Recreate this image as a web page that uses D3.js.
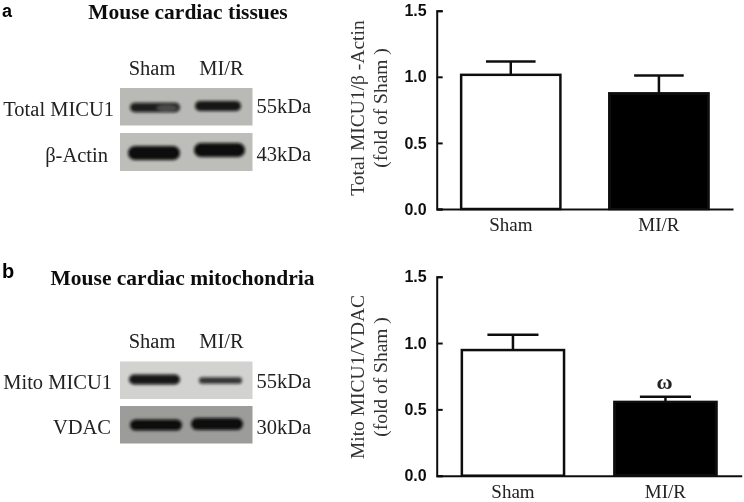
<!DOCTYPE html>
<html>
<head>
<meta charset="utf-8">
<script src="https://cdn.jsdelivr.net/npm/d3@7"></script>
<style>
  html, body { margin: 0; padding: 0; background: #fff; }
  svg { display: block; }
  text { fill: #222; }
  .serif { font-family: "Liberation Serif", serif; font-size: 20.5px; }
  .ytitle { font-family: "Liberation Serif", serif; font-size: 19.5px; fill: #333; }
  .title { font-family: "Liberation Serif", serif; font-size: 21.5px; font-weight: bold; fill: #111; }
  .letter { font-family: "Liberation Sans", sans-serif; font-size: 20px; font-weight: bold; fill: #000; }
  .tick text { font-family: "Liberation Sans", sans-serif; font-size: 16px; font-weight: bold; fill: #111; }
  .xaxis .tick text { font-family: "Liberation Serif", serif; font-size: 19px; font-weight: normal; fill: #222; }
</style>
</head>
<body>
<div id="chart"></div>
<script>
// --- data -------------------------------------------------------------------
const groups = ['Sham', 'MI/R'];
const yTicks = [0, 0.5, 1.0, 1.5];

const totalMeans = [1.015, 0.875];
const totalErrors = [0.1, 0.135];
const mitoMeans = [0.947, 0.556];
const mitoErrors = [0.115, 0.04];

const barFills = ['#fff', '#000'];

// band darkness per lane, 0..1
const totalMicuDensity = [0.9, 0.95];
const actinDensity = [1, 1];
const mitoMicuDensity = [0.95, 0.8];
const vdacDensity = [1, 1];

const W = 744, H = 502;
const root = d3.select('#chart').append('svg')
  .attr('width', W).attr('height', H)
  .attr('viewBox', `0 0 ${W} ${H}`);

const defs = root.append('defs');
function addBlur(id, s) {
  defs.append('filter').attr('id', id)
    .attr('x', '-20%').attr('y', '-80%').attr('width', '140%').attr('height', '260%')
    .append('feGaussianBlur').attr('stdDeviation', s);
}
addBlur('bandBlur', 1.6);
// the source figure is a soft, resampled scan
defs.append('filter').attr('id', 'soft')
  .attr('filterUnits', 'userSpaceOnUse')
  .attr('x', 0).attr('y', 0).attr('width', W).attr('height', H)
  .append('feGaussianBlur').attr('stdDeviation', 0.4);

const svg = root.append('g').attr('filter', 'url(#soft)');

// --- blots ------------------------------------------------------------------
function drawBlot(box, fill, density, lanes) {
  const g = svg.append('g');
  g.append('rect')
    .attr('x', box.x).attr('y', box.y)
    .attr('width', box.w).attr('height', box.h)
    .attr('fill', fill);
  const clipId = 'clip' + Math.round(box.y);
  defs.append('clipPath').attr('id', clipId).append('rect')
    .attr('x', box.x).attr('y', box.y).attr('width', box.w).attr('height', box.h);
  g.append('g').attr('clip-path', `url(#${clipId})`)
    .selectAll('rect')
    .data(lanes)
    .join('rect')
      .attr('x', d => d.x0).attr('width', d => d.x1 - d.x0)
      .attr('y', d => d.cy - d.h / 2).attr('height', d => d.h)
      .attr('rx', d => d.h / 2)
      .attr('fill', '#0a0a0a')
      .attr('opacity', (_, i) => density[i])
      .attr('filter', 'url(#bandBlur)');
  return g;
}

const blotX = 120, blotW = 132.5;
const blotA = drawBlot({ x: blotX, y: 88, w: blotW, h: 37.5 }, '#b9b9b5', totalMicuDensity, [
  { x0: 130, x1: 180, cy: 107.5, h: 9.5 }, { x0: 195, x1: 241, cy: 106, h: 10 }]);
// the Sham band fades a little in its right half
blotA.append('ellipse')
  .attr('cx', 167).attr('cy', 108).attr('rx', 11).attr('ry', 3.5)
  .attr('fill', '#b9b9b5').attr('opacity', 0.3)
  .attr('filter', 'url(#bandBlur)');
drawBlot({ x: blotX, y: 133, w: blotW, h: 38 }, '#bdbdb9', actinDensity, [
  { x0: 128, x1: 180, cy: 153, h: 14 }, { x0: 194, x1: 245, cy: 150, h: 14 }]);
drawBlot({ x: blotX, y: 361.5, w: blotW, h: 37.5 }, '#d2d2d0', mitoMicuDensity, [
  { x0: 129, x1: 180, cy: 379.5, h: 10 }, { x0: 199, x1: 242, cy: 380.5, h: 6.5 }]);
drawBlot({ x: blotX, y: 406, w: blotW, h: 37.5 }, '#9c9c9a', vdacDensity, [
  { x0: 130, x1: 182, cy: 425, h: 11 }, { x0: 191, x1: 243, cy: 424, h: 12 }]);

// --- blot and panel labels --------------------------------------------------
function label(x, y, str, cls, anchor) {
  return svg.append('text').attr('class', cls)
    .attr('x', x).attr('y', y)
    .attr('text-anchor', anchor || 'start')
    .text(str);
}
label(2, 16.5, 'a', 'letter').style('font-size', '18px');
label(2, 278, 'b', 'letter');
label(188, 19, 'Mouse cardiac tissues', 'title', 'middle');
label(182.5, 285, 'Mouse cardiac mitochondria', 'title', 'middle');

label(152, 75, groups[0], 'serif', 'middle');
label(221.5, 75, groups[1], 'serif', 'middle');
label(152, 347.5, groups[0], 'serif', 'middle');
label(221.5, 347.5, groups[1], 'serif', 'middle');

label(114, 116, 'Total MICU1', 'serif', 'end');
label(108, 161.5, 'β-Actin', 'serif', 'end');
label(112, 389, 'Mito MICU1', 'serif', 'end');
label(111, 434, 'VDAC', 'serif', 'end');

label(256.5, 112.5, '55kDa', 'serif');
label(256.5, 160.5, '43kDa', 'serif');
label(256.5, 387.5, '55kDa', 'serif');
label(256.5, 433.5, '30kDa', 'serif');

// --- bar panels -------------------------------------------------------------
function drawBars({ left, right, top, bottom, means, errors, titleLines, titleY }) {
  const x = d3.scaleBand().domain(groups).range([left, right])
    .paddingInner(0.33).paddingOuter(0.165);
  const y = d3.scaleLinear().domain([0, 1.5]).range([bottom, top]);
  const rows = groups.map((g, i) => ({ g, mean: means[i], err: errors[i], fill: barFills[i] }));
  const g = svg.append('g');

  // error bars go behind the bar outline
  const eb = g.append('g').selectAll('g').data(rows).join('g')
    .attr('stroke', '#111').attr('stroke-width', 2.5);
  eb.append('line')
    .attr('x1', d => x(d.g) + x.bandwidth() / 2).attr('x2', d => x(d.g) + x.bandwidth() / 2)
    .attr('y1', d => y(d.mean)).attr('y2', d => y(d.mean + d.err));
  eb.append('line')
    .attr('x1', d => x(d.g) + x.bandwidth() / 4).attr('x2', d => x(d.g) + x.bandwidth() * 3 / 4)
    .attr('y1', d => y(d.mean + d.err)).attr('y2', d => y(d.mean + d.err));

  g.append('g').selectAll('rect').data(rows).join('rect')
    .attr('x', d => x(d.g)).attr('width', x.bandwidth())
    .attr('y', d => y(d.mean)).attr('height', d => bottom - y(d.mean))
    .attr('fill', d => d.fill)
    .attr('stroke', '#111').attr('stroke-width', 2.5);

  const yAxis = g.append('g').attr('class', 'yaxis')
    .attr('transform', `translate(${left},0)`)
    .call(d3.axisLeft(y).tickValues(yTicks).tickFormat(d3.format('.1f')).tickSize(-6).tickPadding(10));
  yAxis.selectAll('path, line').attr('stroke', '#111').attr('stroke-width', 2);

  const xAxis = g.append('g').attr('class', 'xaxis')
    .attr('transform', `translate(0,${bottom})`)
    .call(d3.axisBottom(x).tickSize(0).tickPadding(9));
  xAxis.select('path').attr('stroke', '#111').attr('stroke-width', 2);

  titleLines.forEach((t, i) => {
    svg.append('text').attr('class', 'ytitle')
      .attr('text-anchor', 'middle')
      .attr('transform', `translate(${364 + i * 23},${titleY}) rotate(-90)`)
      .text(t);
  });
  return { x, y };
}

drawBars({
  left: 436.7, right: 733, top: 10.7, bottom: 209,
  means: totalMeans, errors: totalErrors,
  titleLines: ['Total MICU1/β -Actin', '(fold of Sham )'], titleY: 108
});

const mito = drawBars({
  left: 436.7, right: 741.7, top: 276.7, bottom: 475.7,
  means: mitoMeans, errors: mitoErrors,
  titleLines: ['Mito MICU1/VDAC', '(fold of Sham )'], titleY: 377
});

svg.append('text').attr('class', 'serif')
  .attr('x', mito.x('MI/R') + mito.x.bandwidth() / 2 - 1)
  .attr('y', mito.y(mitoMeans[1] + mitoErrors[1]) - 8)
  .attr('text-anchor', 'middle')
  .style('font-weight', 'bold')
  .style('font-size', '22px')
  .text('ω');
</script>
</body>
</html>
